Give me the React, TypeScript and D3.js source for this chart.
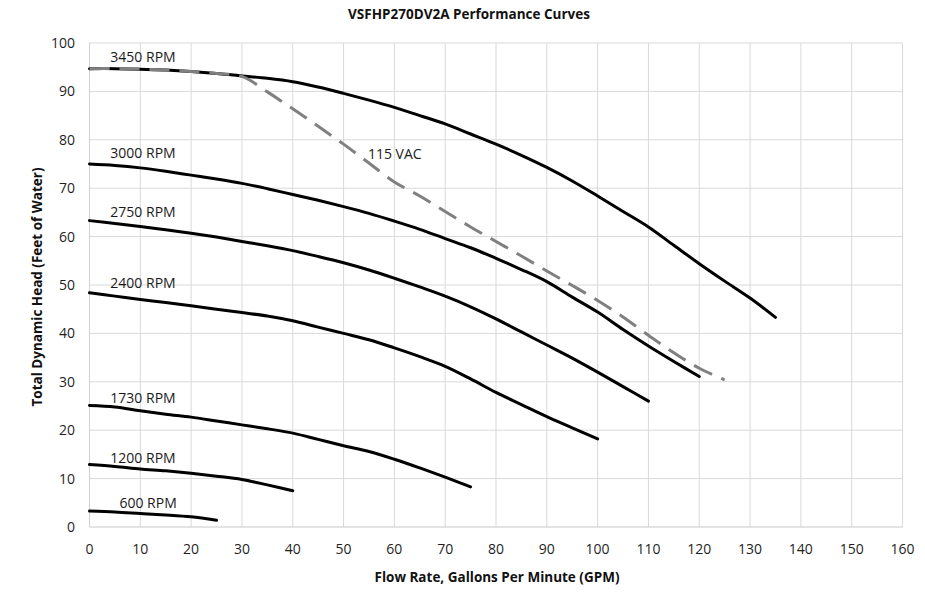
import { useEffect, useRef } from "react";
import * as d3 from "d3";

const W = 925;
const H = 593;
const PAD = { top: 43, right: 22.5, bottom: 66, left: 89.5 };

const FONT = "'Open Sans', 'Noto Sans', sans-serif";

// flow rate samples, GPM
const flow = [
  0, 5, 10, 15, 20, 25, 30, 35, 40, 45, 50, 55, 60, 65, 70, 75, 80, 85, 90,
  95, 100, 105, 110, 115, 120, 125, 130, 135,
];

// head (ft of water) per speed, one value per flow sample
const rpm3450 = [
  94.7, 94.7, 94.6, 94.4, 94.1, 93.7, 93.2, 92.7, 92.0, 90.9, 89.6, 88.2,
  86.7, 85.0, 83.3, 81.2, 79.1, 76.8, 74.3, 71.5, 68.4, 65.2, 62.0, 58.2,
  54.4, 50.8, 47.3, 43.3,
];
const rpm3000 = [
  75.0, 74.7, 74.2, 73.5, 72.7, 71.9, 71.0, 69.9, 68.7, 67.5, 66.2, 64.8,
  63.2, 61.5, 59.6, 57.7, 55.5, 53.2, 50.7, 47.5, 44.4, 40.8, 37.4, 34.2,
  31.1,
];
const rpm2750 = [
  63.3, 62.7, 62.1, 61.4, 60.7, 59.9, 59.0, 58.1, 57.1, 55.9, 54.6, 53.1,
  51.4, 49.6, 47.7, 45.5, 43.0, 40.3, 37.6, 34.9, 32.0, 29.0, 26.0,
];
const rpm2400 = [
  48.4, 47.7, 47.0, 46.4, 45.7, 45.0, 44.3, 43.6, 42.6, 41.3, 40.0, 38.7,
  37.0, 35.2, 33.2, 30.6, 27.8, 25.3, 22.8, 20.5, 18.2,
];
const rpm1730 = [
  25.1, 24.8, 24.0, 23.3, 22.7, 21.9, 21.1, 20.3, 19.4, 18.1, 16.8, 15.6,
  14.0, 12.2, 10.3, 8.3,
];
const rpm1200 = [12.9, 12.5, 12.0, 11.6, 11.1, 10.5, 9.8, 8.7, 7.5];
const rpm600 = [3.3, 3.1, 2.8, 2.5, 2.1, 1.4];
const vac115 = [
  94.7, 94.7, 94.6, 94.4, 94.1, 93.7, 93.1, 89.9, 86.4, 82.8, 79.1, 75.2,
  71.3, 68.4, 65.2, 62.0, 59.0, 56.0, 52.9, 49.9, 46.8, 43.4, 39.6, 36.0,
  32.8, 30.4,
];

const speedSeries = [rpm3450, rpm3000, rpm2750, rpm2400, rpm1730, rpm1200, rpm600];

// curve labels: text, flow position, head position (baseline)
const labelText = ["3450 RPM", "3000 RPM", "2750 RPM", "2400 RPM", "1730 RPM", "1200 RPM", "600 RPM", "115 VAC"];
const labelFlow = [4.1, 4.1, 4.1, 4.1, 4.1, 4.1, 5.9, 54.8];
const labelHead = [96.1, 76.2, 64.0, 49.3, 25.6, 13.3, 3.9, 76.0];

const xTicks = d3.range(0, 161, 10);
const yTicks = d3.range(0, 101, 10);

export default function App() {
  const svgRef = useRef<SVGSVGElement>(null);

  useEffect(() => {
    const svg = d3.select(svgRef.current);
    if (!svg.node()) return;
    svg.selectAll("*").remove();

    const x = d3.scaleLinear().domain([0, 160]).range([PAD.left, W - PAD.right]);
    const y = d3.scaleLinear().domain([0, 100]).range([H - PAD.bottom, PAD.top]);

    // grid
    svg
      .append("g")
      .selectAll("line")
      .data(yTicks.filter((t) => t > 0))
      .enter()
      .append("line")
      .attr("x1", x(0))
      .attr("x2", x(160))
      .attr("y1", (d) => y(d))
      .attr("y2", (d) => y(d))
      .attr("stroke", "#d9d9d9")
      .attr("stroke-width", 1);
    svg
      .append("g")
      .selectAll("line")
      .data(xTicks.filter((t) => t > 0))
      .enter()
      .append("line")
      .attr("x1", (d) => x(d))
      .attr("x2", (d) => x(d))
      .attr("y1", y(0))
      .attr("y2", y(100))
      .attr("stroke", "#d9d9d9")
      .attr("stroke-width", 1);
    svg
      .append("line")
      .attr("x1", x(0))
      .attr("x2", x(160))
      .attr("y1", y(0))
      .attr("y2", y(0))
      .attr("stroke", "#c8c8c8");
    svg
      .append("line")
      .attr("x1", x(0))
      .attr("x2", x(0))
      .attr("y1", y(0))
      .attr("y2", y(100))
      .attr("stroke", "#d0d0d0");

    // tick labels
    svg
      .append("g")
      .selectAll("text")
      .data(xTicks)
      .enter()
      .append("text")
      .attr("x", (d) => x(d))
      .attr("y", 554)
      .attr("text-anchor", "middle")
      .style("font-family", FONT)
      .style("font-size", "14px")
      .style("fill", "#1f1f1f")
      .text((d) => d);
    svg
      .append("g")
      .selectAll("text")
      .data(yTicks)
      .enter()
      .append("text")
      .attr("x", 75)
      .attr("y", (d) => y(d) + 5)
      .attr("text-anchor", "end")
      .style("font-family", FONT)
      .style("font-size", "14px")
      .style("fill", "#1f1f1f")
      .text((d) => d);

    const line = d3
      .line<number>()
      .x((_d, i) => x(flow[i]))
      .y((d) => y(d))
      .curve(d3.curveCatmullRom.alpha(0.5));

    svg
      .append("g")
      .selectAll("path")
      .data(speedSeries)
      .enter()
      .append("path")
      .attr("d", (d) => line(d))
      .attr("fill", "none")
      .attr("stroke", "#000")
      .attr("stroke-width", 3)
      .attr("stroke-linecap", "round");

    svg
      .append("path")
      .attr("d", line(vac115))
      .attr("fill", "none")
      .attr("stroke", "#808080")
      .attr("stroke-width", 3)
      .attr("stroke-dasharray", "20 10");

    svg
      .append("g")
      .selectAll("text")
      .data(labelText)
      .enter()
      .append("text")
      .attr("x", (_d, i) => x(labelFlow[i]))
      .attr("y", (_d, i) => y(labelHead[i]))
      .style("font-family", FONT)
      .style("font-size", "14px")
      .style("fill", "#1a1a1a")
      .text((d) => d);

    // titles
    const bold = (s: d3.Selection<SVGTextElement, unknown, null, undefined>) =>
      s
        .attr("text-anchor", "middle")
        .style("font-family", FONT)
        .style("font-size", "13.5px")
        .style("font-weight", "bold")
        .style("fill", "#111");
    svg
      .append("text")
      .attr("x", 469)
      .attr("y", 19)
      .call(bold)
      .text("VSFHP270DV2A Performance Curves");
    svg
      .append("text")
      .attr("x", 497)
      .attr("y", 582)
      .call(bold)
      .text("Flow Rate, Gallons Per Minute (GPM)");
    svg
      .append("text")
      .attr("transform", `translate(42,${(y(0) + y(100)) / 2 + 2}) rotate(-90)`)
      .call(bold)
      .text("Total Dynamic Head (Feet of Water)");
  }, []);

  return (
    <div style={{ position: "absolute", left: 0, top: 0 }}>
      <svg ref={svgRef} width={W} height={H} style={{ display: "block", background: "#fff" }} />
    </div>
  );
}
